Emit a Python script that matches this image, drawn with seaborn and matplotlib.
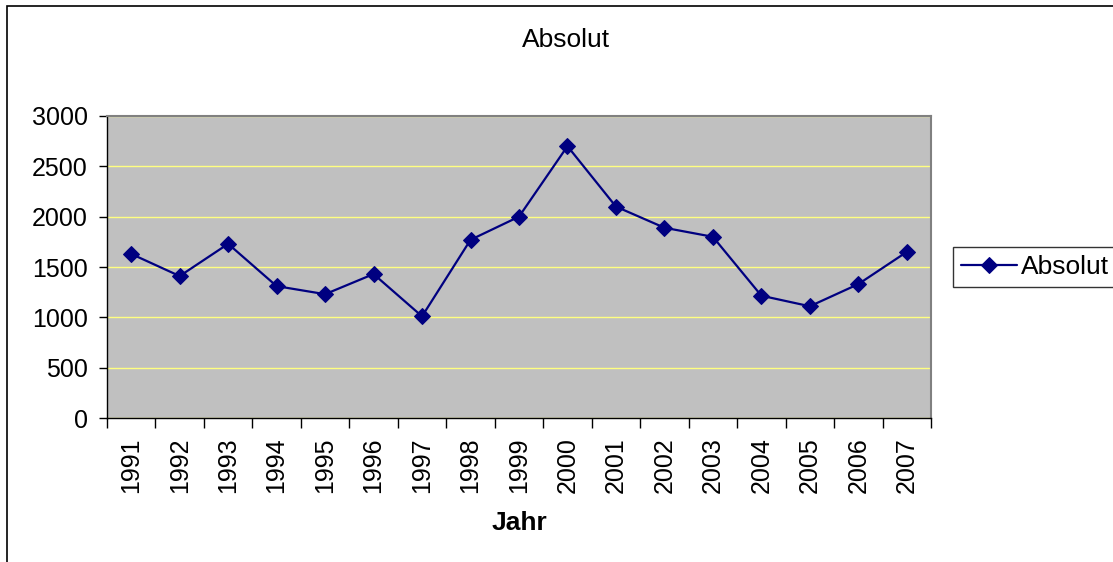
import pandas as pd
import matplotlib.pyplot as plt
import seaborn as sns
from matplotlib.patches import Rectangle

# data
jahre = ['1991', '1992', '1993', '1994', '1995', '1996', '1997', '1998', '1999',
         '2000', '2001', '2002', '2003', '2004', '2005', '2006', '2007']
absolut = [1630, 1410, 1730, 1310, 1230, 1430, 1010, 1770, 2000,
           2700, 2100, 1890, 1800, 1215, 1110, 1330, 1650]
y_ticks = [0, 500, 1000, 1500, 2000, 2500, 3000]

df = pd.DataFrame({'Jahr': jahre, 'Absolut': absolut})
df['pos'] = range(len(df))

sns.set_style('white')
plt.rcParams['font.family'] = ['Liberation Sans', 'DejaVu Sans']
plt.rcParams['text.color'] = 'black'
plt.rcParams['xtick.color'] = 'black'
plt.rcParams['ytick.color'] = 'black'
plt.rcParams['axes.labelcolor'] = 'black'

fig = plt.figure(figsize=(11.13, 5.62), dpi=100)
ax = fig.add_axes([0.0961, 0.2562, 0.7404, 0.5374])
ax.set_facecolor('#C0C0C0')

sns.lineplot(data=df, x='pos', y='Absolut', ax=ax, color='#000080', lw=1.6,
             marker='D', markersize=8, markeredgecolor='#000080', label='Absolut')

ax.set_xlim(-0.5, len(jahre) - 0.5)
ax.set_ylim(0, 3000)
ax.set_yticks(y_ticks)
ax.set_yticklabels([str(v) for v in y_ticks], fontsize=18)
ax.yaxis.grid(True, color='#FFFF80', lw=1)
ax.set_axisbelow(True)

ax.set_xticks(range(len(jahre)))
ax.set_xticklabels(jahre, rotation=90, fontsize=18)
ax.set_xticks([i - 0.5 for i in range(len(jahre) + 1)], minor=True)
ax.tick_params(axis='x', which='major', length=0, pad=14)
ax.tick_params(axis='x', which='minor', length=7, width=1, color='black', direction='out', bottom=True)
ax.tick_params(axis='y', length=6, width=1, color='black', direction='out', left=True, pad=8)

for s in ['top', 'right']:
    ax.spines[s].set_color('#808080')
    ax.spines[s].set_linewidth(1.5)
for s in ['left', 'bottom']:
    ax.spines[s].set_color('black')
    ax.spines[s].set_linewidth(1)

ax.set_xlabel('Jahr', fontsize=19, fontweight='bold', labelpad=13)
ax.set_ylabel('')
fig.text(0.5085, 0.929, 'Absolut', ha='center', va='center', fontsize=19)

leg = ax.legend(loc='center left', bbox_to_anchor=(1.027, 0.5), fontsize=19,
                frameon=True, fancybox=False, handlelength=2.1, handletextpad=0.15,
                borderpad=0.3, borderaxespad=0)
leg.get_frame().set_edgecolor('black')
leg.get_frame().set_linewidth(1)

# outer chart border
fig.patches.append(Rectangle((0.0063, -0.1), 1.1, 1.0893, transform=fig.transFigure,
                             fill=False, edgecolor='black', lw=1.2))

fig.savefig('out.png', dpi=100)
